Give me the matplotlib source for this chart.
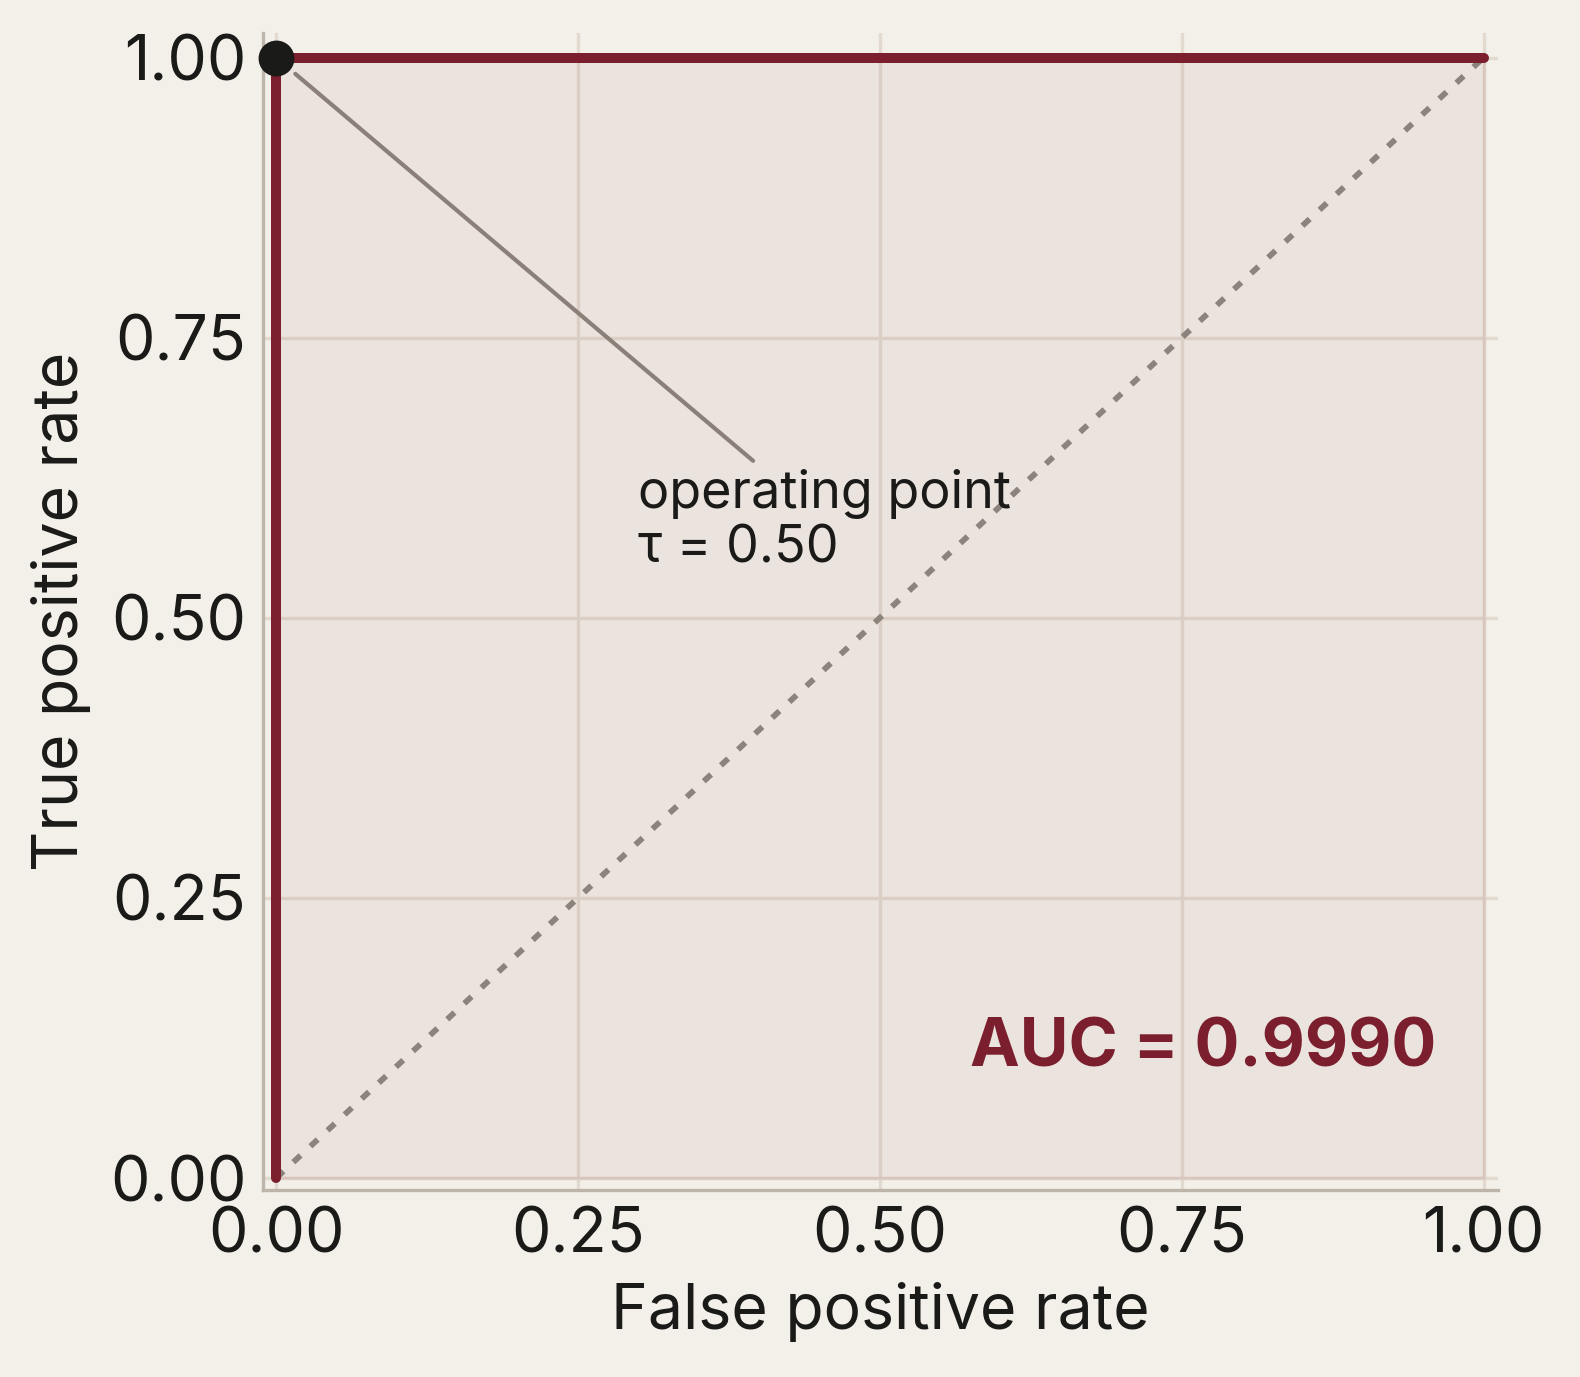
import matplotlib.pyplot as plt

# --- ROC data ---
fpr = [0.0, 0.0, 1.0]
tpr = [0.0, 1.0, 1.0]
chance = [0.0, 1.0]
op_fpr, op_tpr = 0.0, 1.0
threshold = 0.50
auc = 0.9990

bg = "#f3f0ea"
maroon = "#7b1e2d"

plt.rcParams['font.family'] = ['Inter', 'DejaVu Sans']

fig = plt.figure(figsize=(1581 / 300, 1377 / 300), dpi=300, facecolor=bg)
ax = fig.add_axes([0.1663, 0.1358, 0.9475 - 0.1663, 0.976 - 0.1358])
ax.set_facecolor(bg)

ax.fill_between(fpr, tpr, 0, color=maroon, alpha=0.06, lw=0.8, zorder=1)
ax.plot(chance, chance, color="#8a847c", lw=1.4, ls=(0, (1.7, 2.3)), zorder=2)
ax.plot(fpr, tpr, color=maroon, lw=2.4, solid_capstyle='round', zorder=3)
ax.plot([op_fpr], [op_tpr], 'o', color="#1a1a18", markersize=7.6, zorder=4, clip_on=False)

ax.annotate(f"operating point\nτ = {threshold:.2f}", xy=(op_fpr, op_tpr), xytext=(0.30, 0.586),
            textcoords='data', ha='left', va='center', fontsize=12.5, color="#1a1a18",
            linespacing=1.15,
            arrowprops=dict(arrowstyle='-', color="#8a8079", lw=1.0, shrinkA=0, shrinkB=6))

ax.text(0.95, 0.095, f"AUC = {auc:.4f}", transform=ax.transAxes, ha='right', va='bottom',
        fontsize=16, fontweight='bold', color=maroon)

ax.set_xlim(-0.011, 1.012)
ax.set_ylim(-0.0107, 1.022)
ticks = [0.0, 0.25, 0.5, 0.75, 1.0]
ax.set_xticks(ticks)
ax.set_yticks(ticks)
ax.set_xticklabels([f"{t:.2f}" for t in ticks])
ax.set_yticklabels([f"{t:.2f}" for t in ticks])
ax.tick_params(length=0, pad=4, labelsize=15, colors="#1a1a18")

ax.grid(True, color="#e2d9cf", lw=0.8, zorder=0)
ax.set_axisbelow(True)
for side in ["top", "right"]:
    ax.spines[side].set_visible(False)
for side in ["left", "bottom"]:
    ax.spines[side].set_color("#bdb5aa")
    ax.spines[side].set_linewidth(0.8)

ax.set_xlabel("False positive rate", fontsize=15, color="#1a1a18", labelpad=4)
ax.set_ylabel("True positive rate", fontsize=15, color="#1a1a18", labelpad=4.5)

fig.savefig("out.png", dpi=300, facecolor=bg)
